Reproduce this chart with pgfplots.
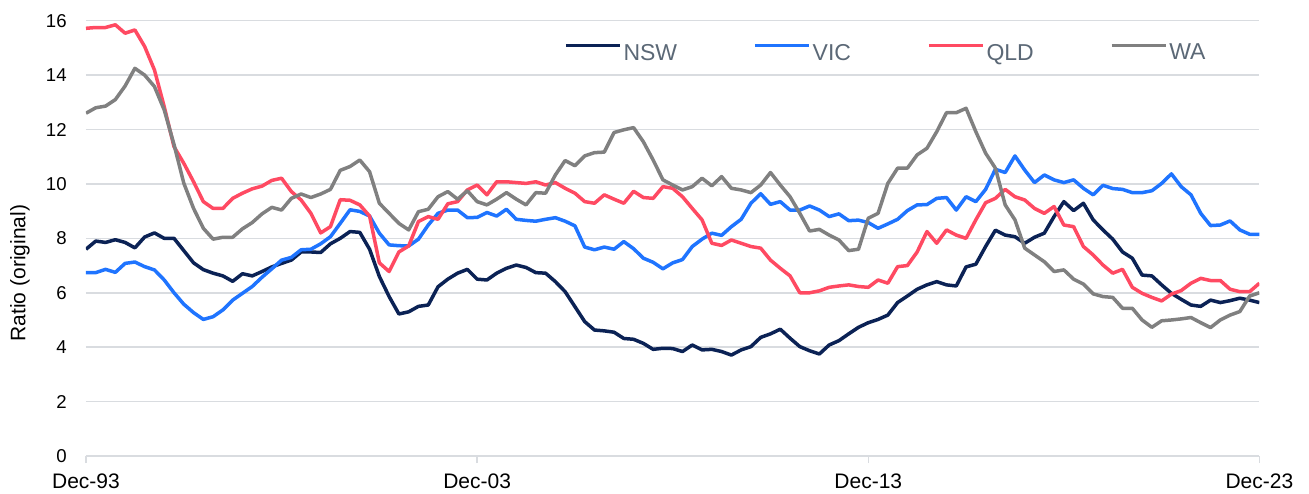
\documentclass[border=0pt]{standalone}
\usepackage{fontspec}
\setmainfont{Liberation Sans}
\usepackage{pgfplots}
\usepackage{pgfplotstable}
\pgfplotsset{compat=1.18}
\definecolor{nsw}{HTML}{0B2255}
\definecolor{vic}{HTML}{1F74FF}
\definecolor{qld}{HTML}{FF4A62}
\definecolor{wa}{HTML}{808080}
\definecolor{gridc}{HTML}{D9DCE0}
\definecolor{legtext}{HTML}{5B6876}

\pgfplotstableread{
i nsw vic qld wa
0 7.60 6.74 15.72 12.60
1 7.90 6.74 15.75 12.80
2 7.85 6.86 15.75 12.86
3 7.95 6.75 15.85 13.10
4 7.85 7.08 15.54 13.60
5 7.65 7.13 15.66 14.25
6 8.05 6.96 15.05 14.00
7 8.20 6.84 14.19 13.58
8 8.00 6.47 12.84 12.72
9 8.00 6.00 11.37 11.45
10 7.55 5.58 10.76 10.03
11 7.10 5.27 10.08 9.10
12 6.85 5.02 9.35 8.37
13 6.72 5.12 9.10 7.97
14 6.62 5.37 9.10 8.04
15 6.42 5.73 9.47 8.04
16 6.70 5.98 9.66 8.35
17 6.62 6.23 9.82 8.58
18 6.78 6.57 9.92 8.90
19 6.95 6.88 10.13 9.14
20 7.08 7.20 10.21 9.04
21 7.20 7.30 9.72 9.47
22 7.50 7.58 9.41 9.63
23 7.50 7.60 8.92 9.50
24 7.48 7.80 8.20 9.63
25 7.80 8.06 8.43 9.80
26 8.00 8.55 9.42 10.50
27 8.25 9.05 9.40 10.64
28 8.22 8.99 9.23 10.88
29 7.60 8.82 8.82 10.45
30 6.60 8.19 7.10 9.29
31 5.86 7.76 6.78 8.92
32 5.22 7.73 7.50 8.55
33 5.30 7.72 7.72 8.31
34 5.50 7.97 8.62 8.98
35 5.55 8.49 8.80 9.07
36 6.22 8.92 8.70 9.53
37 6.50 9.04 9.27 9.72
38 6.72 9.04 9.35 9.44
39 6.86 8.76 9.78 9.75
40 6.50 8.77 9.96 9.35
41 6.47 8.95 9.60 9.23
42 6.72 8.82 10.08 9.44
43 6.90 9.07 10.08 9.68
44 7.02 8.70 10.05 9.44
45 6.93 8.66 10.02 9.23
46 6.74 8.63 10.08 9.68
47 6.72 8.70 9.96 9.66
48 6.41 8.76 10.05 10.33
49 6.04 8.63 9.84 10.86
50 5.49 8.46 9.66 10.67
51 4.94 7.68 9.35 11.03
52 4.63 7.58 9.29 11.15
53 4.60 7.68 9.60 11.17
54 4.55 7.60 9.44 11.89
55 4.32 7.88 9.29 11.99
56 4.29 7.62 9.73 12.07
57 4.14 7.27 9.50 11.55
58 3.92 7.12 9.47 10.88
59 3.96 6.88 9.90 10.15
60 3.95 7.10 9.84 9.96
61 3.84 7.22 9.53 9.78
62 4.08 7.70 9.10 9.90
63 3.90 7.97 8.68 10.21
64 3.92 8.19 7.82 9.93
65 3.84 8.11 7.74 10.27
66 3.71 8.43 7.94 9.84
67 3.90 8.70 7.82 9.78
68 4.02 9.29 7.70 9.68
69 4.36 9.64 7.64 9.96
70 4.49 9.25 7.20 10.42
71 4.66 9.35 6.90 9.96
72 4.33 9.04 6.62 9.53
73 4.02 9.04 6.00 8.92
74 3.87 9.19 6.00 8.27
75 3.75 9.04 6.07 8.33
76 4.08 8.80 6.20 8.12
77 4.24 8.90 6.25 7.94
78 4.49 8.65 6.29 7.55
79 4.73 8.67 6.23 7.60
80 4.90 8.58 6.20 8.74
81 5.02 8.37 6.47 8.92
82 5.18 8.53 6.35 10.02
83 5.64 8.70 6.96 10.58
84 5.88 9.02 7.00 10.58
85 6.13 9.23 7.50 11.07
86 6.29 9.24 8.25 11.31
87 6.41 9.47 7.82 11.92
88 6.29 9.50 8.31 12.62
89 6.25 9.04 8.12 12.62
90 6.95 9.53 8.00 12.78
91 7.05 9.35 8.68 11.92
92 7.70 9.80 9.31 11.13
93 8.30 10.54 9.47 10.58
94 8.12 10.42 9.80 9.23
95 8.06 11.03 9.53 8.68
96 7.82 10.51 9.41 7.64
97 8.04 10.05 9.10 7.39
98 8.19 10.33 8.92 7.14
99 8.80 10.15 9.17 6.78
100 9.35 10.05 8.49 6.84
101 9.02 10.15 8.43 6.50
102 9.29 9.84 7.70 6.32
103 8.68 9.60 7.39 5.96
104 8.31 9.95 7.02 5.86
105 7.97 9.83 6.72 5.83
106 7.50 9.80 6.86 5.43
107 7.27 9.68 6.20 5.43
108 6.65 9.68 5.98 5.00
109 6.62 9.75 5.83 4.73
110 6.29 10.02 5.70 4.97
111 5.98 10.37 5.95 5.00
112 5.76 9.90 6.08 5.04
113 5.55 9.60 6.35 5.09
114 5.50 8.92 6.53 4.90
115 5.73 8.47 6.45 4.72
116 5.64 8.49 6.45 5.00
117 5.71 8.64 6.13 5.18
118 5.80 8.31 6.04 5.31
119 5.73 8.15 6.04 5.88
120 5.64 8.15 6.35 6.00
}\datatable

\begin{document}
\begin{tikzpicture}
\begin{axis}[
  scale only axis,
  width=586.7pt, height=217.65pt,
  xmin=0, xmax=120, ymin=0, ymax=16,
  axis line style={draw=none},
  xtick={0,40,80,120},
  xticklabels={Dec-93,Dec-03,Dec-13,Dec-23},
  ytick={0,2,...,16},
  ymajorgrids,
  major grid style={draw=gridc, line width=0.75pt},
  tick align=outside,
  major tick length=3.5pt,
  xtick pos=bottom, ytick pos=left,
  xtick style={draw=gridc, line width=0.75pt},
  ytick style={draw=none},
  /pgf/number format/assume math mode=true,
  yticklabel style={anchor=east, inner sep=0pt, font=\fontsize{9.3}{11}\selectfont, xshift=-6pt},
  xticklabel style={anchor=north, inner sep=0pt, font=\fontsize{10.5}{12.6}\selectfont, yshift=-5pt},
  ylabel={Ratio (original)},
  ylabel style={at={(axis description cs:-0.05625,0.42)}, anchor=center, font=\fontsize{10.5}{12.6}\selectfont},
  legend columns=4,
  legend style={at={(0.4074,0.925)}, anchor=west, draw=none, fill=none,
    inner sep=0pt, outer sep=0pt,
    font=\fontsize{11.5}{13.8}\selectfont, text=legtext,
    nodes={inner sep=0pt},
    /tikz/every even column/.append style={column sep=38pt},
    /tikz/every odd column/.append style={column sep=1pt}},
  legend image code/.code={\draw[#1, line width=1.75pt] (0pt,4.1pt) -- (27pt,4.1pt);},
  every axis plot/.append style={line width=1.75pt, line join=round, mark=none},
]
\addplot[nsw] table[x=i, y=nsw] {\datatable};
\addplot[vic] table[x=i, y=vic] {\datatable};
\addplot[qld] table[x=i, y=qld] {\datatable};
\addplot[wa] table[x=i, y=wa] {\datatable};
\legend{NSW, VIC, QLD, WA}
\end{axis}
\pgfresetboundingbox
\path (-43pt,-18.5pt) rectangle (611.5pt,228pt);
\end{tikzpicture}
\end{document}
